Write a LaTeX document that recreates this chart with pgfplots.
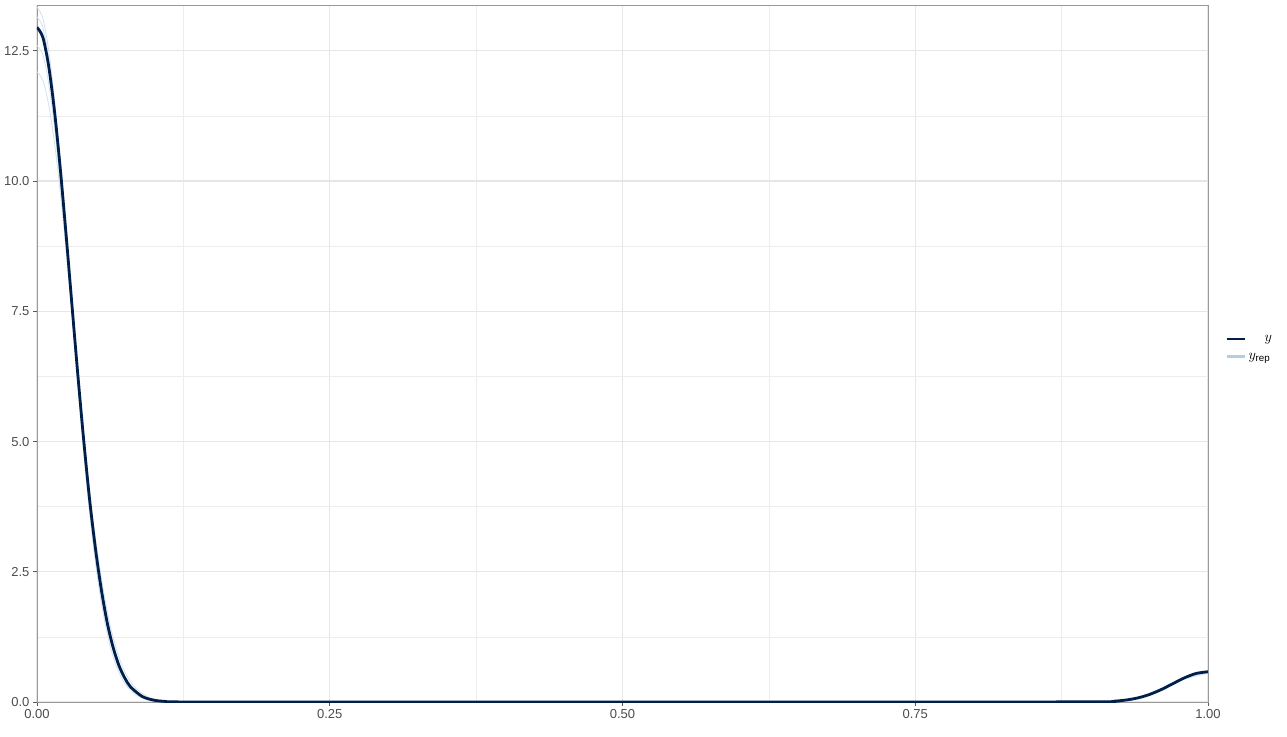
\documentclass[border=0pt]{standalone}
\usepackage{pgfplots}
\pgfplotsset{compat=1.18}
\usepackage{pgfplotstable}
\usepackage{fontspec}
\setmainfont{Liberation Sans}
\definecolor{ydark}{HTML}{011F4B}
\definecolor{yrep}{HTML}{B3CDE3}
\definecolor{gridc}{HTML}{E6E6E6}
\pgfplotstableread{
x y
0 12.95
0.005 12.76
0.01 12.20
0.015 11.33
0.02 10.21
0.025 8.93
0.03 7.58
0.035 6.25
0.04 5.00
0.045 3.87
0.05 2.93
0.055 2.15
0.06 1.52
0.065 1.05
0.07 0.70
0.075 0.46
0.08 0.288
0.09 0.105
0.10 0.034
0.11 0.01
0.12 0.002
0.2 0
0.5 0
0.8 0
0.91 0.005
0.92 0.016
0.93 0.038
0.94 0.078
0.95 0.144
0.96 0.238
0.97 0.352
0.98 0.465
0.99 0.549
1.0 0.58
}\ydata
\pgfplotstableread{
x y
0 13.34
0.0048 13.14
0.0096 12.57
0.0144 11.67
0.0192 10.52
0.024 9.20
0.0288 7.81
0.0336 6.44
0.0384 5.15
0.0432 3.99
0.048 3.02
0.0528 2.21
0.0576 1.57
0.0624 1.08
0.0672 0.72
0.072 0.47
0.0768 0.30
0.0864 0.11
0.096 0.035
0.106 0.01
0.115 0.002
0.2 0
0.8 0
0.92 0.012
0.94 0.07
0.96 0.22
0.98 0.44
1.0 0.55
}\repA
\pgfplotstableread{
x y
0 12.1
0.00525 11.92
0.0105 11.40
0.01575 10.59
0.021 9.54
0.02625 8.34
0.0315 7.08
0.03675 5.84
0.042 4.67
0.04725 3.62
0.0525 2.74
0.05775 2.01
0.063 1.42
0.06825 0.98
0.0735 0.65
0.07875 0.43
0.084 0.27
0.0945 0.10
0.105 0.03
0.1155 0.01
0.126 0.002
0.2 0
0.8 0
0.92 0.02
0.94 0.09
0.96 0.26
0.98 0.48
1.0 0.61
}\repB
\pgfplotstableread{
x y
0 12.6
0.005 12.42
0.01 11.87
0.015 11.02
0.02 9.93
0.025 8.69
0.03 7.38
0.035 6.08
0.04 4.87
0.045 3.77
0.05 2.85
0.055 2.09
0.06 1.48
0.065 1.02
0.07 0.68
0.075 0.45
0.08 0.28
0.09 0.10
0.10 0.033
0.11 0.01
0.12 0.002
0.2 0
0.8 0
0.92 0.015
0.94 0.075
0.96 0.23
0.98 0.45
1.0 0.57
}\repC
\pgfplotstableread{
x y
0 13.15
0.0049 12.96
0.0098 12.39
0.0147 11.50
0.0196 10.37
0.0245 9.07
0.0294 7.70
0.0343 6.35
0.0392 5.08
0.0441 3.93
0.049 2.98
0.0539 2.18
0.0588 1.54
0.0637 1.07
0.0686 0.71
0.0735 0.47
0.0784 0.29
0.0882 0.107
0.098 0.035
0.108 0.01
0.118 0.002
0.2 0
0.8 0
0.92 0.018
0.94 0.08
0.96 0.25
0.98 0.47
1.0 0.59
}\repD
\begin{document}
\begin{tikzpicture}
\begin{axis}[
  at={(0,0)}, anchor=south west,
  scale only axis, width=1171pt, height=697pt,
  xmin=0, xmax=1, ymin=0, ymax=13.38,
  xtick={0,0.25,0.5,0.75,1}, xticklabels={0.00,0.25,0.50,0.75,1.00},
  ytick={0,2.5,5,7.5,10,12.5}, yticklabels={0.0,2.5,5.0,7.5,10.0,12.5},
  minor xtick={0.125,0.375,0.625,0.875}, minor ytick={1.25,3.75,6.25,8.75,11.25},
  grid=both,
  major grid style={gridc, line width=1.3pt},
  minor grid style={gridc!70, line width=0.7pt},
  axis line style={gray!80, line width=0.8pt},
  tick style={gray!70!black, line width=0.8pt},
  major tick length=4pt, minor tick length=0pt,
  tick align=outside, xtick pos=bottom, ytick pos=left,
  ticklabel style={font=\fontsize{13}{15}\selectfont, text=black!70},
  legend style={at={(1.012,0.508)}, anchor=west, draw=none, fill=none,
    font=\fontsize{14}{16}\selectfont, row sep=6pt},
  legend cell align=left,
  legend image code/.code={\draw[#1] (0cm,0cm) -- (0.65cm,0cm);},
]
\addplot[yrep!60, line width=0.8pt, smooth, forget plot] table[x=x,y=y]{\repA};
\addplot[yrep!60, line width=0.8pt, smooth, forget plot] table[x=x,y=y]{\repB};
\addplot[yrep!60, line width=0.8pt, smooth, forget plot] table[x=x,y=y]{\repC};
\addplot[yrep!60, line width=0.8pt, smooth, forget plot] table[x=x,y=y]{\repD};
\addplot[ydark, line width=2.8pt, smooth] table[x=x,y=y]{\ydata};
\addlegendentry{\hspace{16pt}$y$}
\addlegendimage{yrep, line width=3pt}
\addlegendentry{$y_{\mathrm{rep}}$}
\end{axis}
\path[use as bounding box] (-37pt,-34pt) rectangle (1250pt,702pt);
\end{tikzpicture}
\end{document}
